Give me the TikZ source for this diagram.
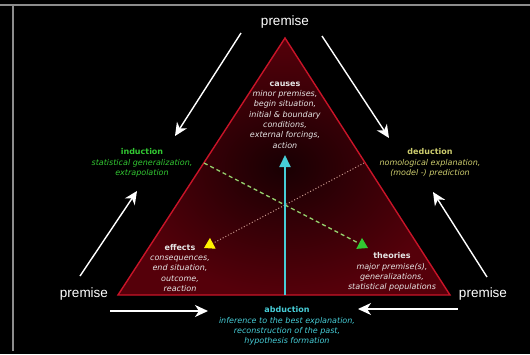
\documentclass[tikz,border=0pt]{standalone}
\usepackage{fontspec}
\setmainfont{Liberation Sans}
\newfontfamily\smallsans{DejaVu Sans}
\usetikzlibrary{arrows.meta,positioning}

\definecolor{bordergray}{RGB}{140,140,140}
\definecolor{trired}{RGB}{200,20,40}
\definecolor{trifill}{RGB}{85,0,10}
\definecolor{tricore}{RGB}{25,0,3}
\definecolor{indgreen}{RGB}{50,200,50}
\definecolor{dedyellow}{RGB}{205,205,110}
\definecolor{abdcyan}{RGB}{70,205,215}
\definecolor{txtwhite}{RGB}{230,230,230}
\definecolor{dotpink}{RGB}{200,150,140}
\definecolor{dashgreen}{RGB}{150,210,110}

\tikzset{
    premise/.style={font=\fontsize{13.5}{15}\selectfont, text=white},
    corner/.style={font=\smallsans\fontsize{8}{10.3}\selectfont, align=center, inner sep=0pt},
    whitearrow/.style={draw=white, line width=1.4pt, -{Stealth[length=13pt,width=12pt,inset=4pt]}},
}

\begin{document}
\begin{tikzpicture}[x=1pt, y=-1pt]

    \fill[black] (0,0) rectangle (530,354);
    \useasboundingbox (0,0) rectangle (530,354);

    \draw[bordergray, line width=2.6pt]
        (0,5) -- (530,5)
        (13,5) -- (13,351)          % frame at top and left
    ;

    % corners of the triangle
    \coordinate (apex) at (285,38);
    \coordinate (lft) at (118,295);
    \coordinate (rgt) at (450,295);
    \coordinate (base) at (285,295);

    \shade[inner color=tricore, outer color=trifill, draw=trired, line width=1.4pt]
        (apex) -- (lft) -- (rgt) -- cycle
    ;

    % labels round the triangle
    \node[premise] (prTop) at (285,22) {premise};
    \node[premise] (prLeft) at (84,294) {premise};
    \node[premise] (prRight) at (483,294) {premise};

    \node[corner, text=txtwhite] (causes) at (285,115)
        {\textbf{causes}\\ \textit{minor premises,}\\ \textit{begin situation,}\\ \textit{initial \& boundary}\\ \textit{conditions,}\\ \textit{external forcings,}\\ \textit{action}};
    \node[corner, text=txtwhite] (effects) at (180,268)
        {\textbf{effects}\\ \textit{consequences,}\\ \textit{end situation,}\\ \textit{outcome,}\\ \textit{reaction}};
    \node[corner, text=txtwhite] (theories) at (392,272)
        {\textbf{theories}\\ \textit{major premise(s),}\\ \textit{generalizations,}\\ \textit{statistical populations}};

    \node[corner, text=indgreen] (induction) at (142,163)
        {\textbf{induction}\\ \textit{statistical generalization,}\\ \textit{extrapolation}};
    \node[corner, text=dedyellow] (deduction) at (430,163)
        {\textbf{deduction}\\ \textit{nomological explanation,}\\ \textit{(model -) prediction}};
    \node[corner, text=abdcyan] (abduction) at (287,326)
        {\textbf{abduction}\\ \textit{inference to the best explanation,}\\ \textit{reconstruction of the past,}\\ \textit{hypothesis formation}};

    % free ends of the white arrows
    \coordinate (tlS) at (241,33);  \coordinate (tlE) at (175,136);
    \coordinate (trS) at (322,36);  \coordinate (trE) at (389,138);
    \coordinate (lS) at (80,276);   \coordinate (lE) at (137,191);
    \coordinate (rS) at (487,277);  \coordinate (rE) at (433,192);
    \coordinate (blS) at (110,311); \coordinate (blE) at (208,311);
    \coordinate (brS) at (458,309); \coordinate (brE) at (358,309);

    \draw[whitearrow] (tlS) -- (tlE);
    \draw[whitearrow] (trS) -- (trE);
    \draw[whitearrow] (lS) -- (lE);
    \draw[whitearrow] (rS) -- (rE);
    \draw[whitearrow] (blS) -- (blE);
    \draw[whitearrow] (brS) -- (brE);

    % arrows inside the triangle
    \coordinate (indS) at (204,163);  \coordinate (indE) at (368,248);
    \coordinate (dedS) at (364,163);  \coordinate (dedE) at (204,248);
    \coordinate (abdE) at (285,155);

    \draw[dashgreen, line width=1.3pt, dash pattern=on 4pt off 3pt,
          -{Triangle[length=10pt,width=12pt,fill=indgreen,color=indgreen]}]
        (indS) -- (indE);
    \draw[dotpink, line width=1pt, dotted,
          -{Triangle[length=10pt,width=12pt,fill=yellow,color=yellow]}]
        (dedS) -- (dedE);
    \draw[abdcyan, line width=2pt, -{Triangle[length=12pt,width=11pt]}]
        (base) -- (abdE);

\end{tikzpicture}
\end{document}
